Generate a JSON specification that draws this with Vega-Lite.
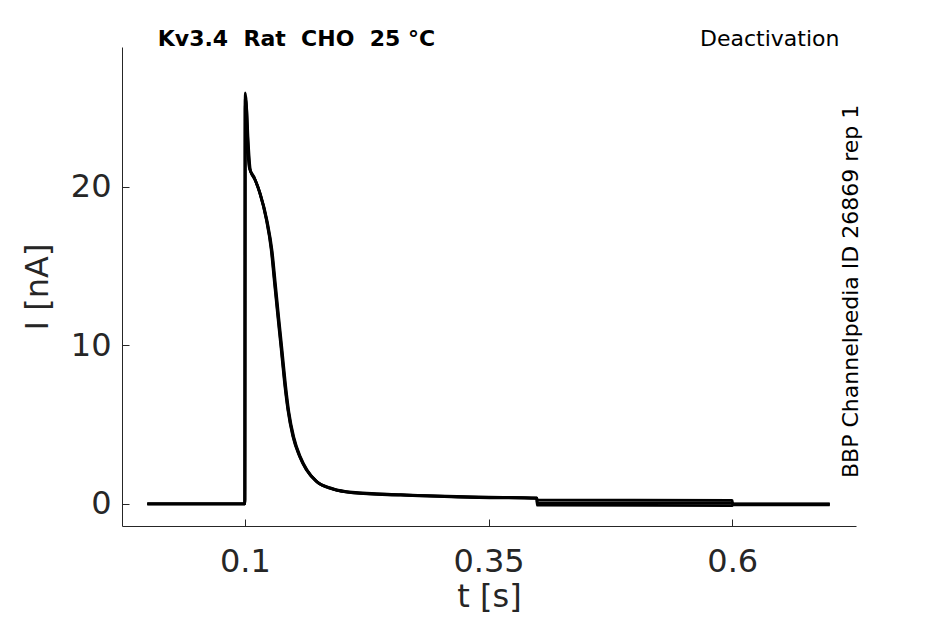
{
  "$schema": "https://vega.github.io/schema/vega-lite/v6.json",
  "width": 734,
  "height": 479,
  "autosize": "none",
  "padding": {"left": 122, "top": 47, "right": 89, "bottom": 98},
  "background": "white",
  "config": {"view": {"stroke": null}, "font": "DejaVu Sans"},
  "data": {
    "values": [
      {"rep": "a", "t": 0, "I": 0},
      {"rep": "a", "t": 0.1, "I": 0},
      {"rep": "a", "t": 0.1004, "I": 25.9},
      {"rep": "a", "t": 0.1015, "I": 25.3},
      {"rep": "a", "t": 0.103, "I": 23.0},
      {"rep": "a", "t": 0.1051, "I": 21.1},
      {"rep": "a", "t": 0.11, "I": 20.5},
      {"rep": "a", "t": 0.1154, "I": 19.6},
      {"rep": "a", "t": 0.1223, "I": 17.9},
      {"rep": "a", "t": 0.1274, "I": 16.0},
      {"rep": "a", "t": 0.1308, "I": 13.9},
      {"rep": "a", "t": 0.1342, "I": 11.8},
      {"rep": "a", "t": 0.1377, "I": 9.7},
      {"rep": "a", "t": 0.1411, "I": 7.6},
      {"rep": "a", "t": 0.1445, "I": 5.9},
      {"rep": "a", "t": 0.1496, "I": 4.25},
      {"rep": "a", "t": 0.1565, "I": 2.98},
      {"rep": "a", "t": 0.1633, "I": 2.15},
      {"rep": "a", "t": 0.1736, "I": 1.41},
      {"rep": "a", "t": 0.19, "I": 0.95},
      {"rep": "a", "t": 0.21, "I": 0.72},
      {"rep": "a", "t": 0.26, "I": 0.57},
      {"rep": "a", "t": 0.34, "I": 0.42},
      {"rep": "a", "t": 0.3995, "I": 0.37},
      {"rep": "a", "t": 0.4, "I": 0.26},
      {"rep": "a", "t": 0.6, "I": 0.22},
      {"rep": "a", "t": 0.6005, "I": -0.02},
      {"rep": "a", "t": 0.7, "I": -0.02},
      {"rep": "b", "t": 0, "I": 0},
      {"rep": "b", "t": 0.1, "I": 0},
      {"rep": "b", "t": 0.1004, "I": 25.6},
      {"rep": "b", "t": 0.1018, "I": 25.0},
      {"rep": "b", "t": 0.1035, "I": 22.8},
      {"rep": "b", "t": 0.1058, "I": 21.0},
      {"rep": "b", "t": 0.1107, "I": 20.4},
      {"rep": "b", "t": 0.1161, "I": 19.5},
      {"rep": "b", "t": 0.123, "I": 17.8},
      {"rep": "b", "t": 0.1281, "I": 15.9},
      {"rep": "b", "t": 0.1315, "I": 13.8},
      {"rep": "b", "t": 0.1349, "I": 11.7},
      {"rep": "b", "t": 0.1384, "I": 9.6},
      {"rep": "b", "t": 0.1418, "I": 7.5},
      {"rep": "b", "t": 0.1452, "I": 5.8},
      {"rep": "b", "t": 0.1503, "I": 4.2},
      {"rep": "b", "t": 0.1572, "I": 2.94},
      {"rep": "b", "t": 0.164, "I": 2.12},
      {"rep": "b", "t": 0.1743, "I": 1.38},
      {"rep": "b", "t": 0.191, "I": 0.92},
      {"rep": "b", "t": 0.211, "I": 0.7},
      {"rep": "b", "t": 0.26, "I": 0.55},
      {"rep": "b", "t": 0.34, "I": 0.4},
      {"rep": "b", "t": 0.3995, "I": 0.35},
      {"rep": "b", "t": 0.4, "I": 0.08},
      {"rep": "b", "t": 0.6, "I": 0.06},
      {"rep": "b", "t": 0.6005, "I": 0.0},
      {"rep": "b", "t": 0.7, "I": 0.0},
      {"rep": "c", "t": 0, "I": 0},
      {"rep": "c", "t": 0.1, "I": 0},
      {"rep": "c", "t": 0.1004, "I": 25.2},
      {"rep": "c", "t": 0.1012, "I": 24.8},
      {"rep": "c", "t": 0.1025, "I": 22.9},
      {"rep": "c", "t": 0.1046, "I": 21.2},
      {"rep": "c", "t": 0.1095, "I": 20.6},
      {"rep": "c", "t": 0.1149, "I": 19.7},
      {"rep": "c", "t": 0.1218, "I": 18.0},
      {"rep": "c", "t": 0.1269, "I": 16.1},
      {"rep": "c", "t": 0.1303, "I": 14.0},
      {"rep": "c", "t": 0.1337, "I": 11.9},
      {"rep": "c", "t": 0.1372, "I": 9.8},
      {"rep": "c", "t": 0.1406, "I": 7.7},
      {"rep": "c", "t": 0.144, "I": 6.0},
      {"rep": "c", "t": 0.1491, "I": 4.3},
      {"rep": "c", "t": 0.156, "I": 3.02},
      {"rep": "c", "t": 0.1628, "I": 2.18},
      {"rep": "c", "t": 0.1731, "I": 1.44},
      {"rep": "c", "t": 0.19, "I": 0.97},
      {"rep": "c", "t": 0.21, "I": 0.74},
      {"rep": "c", "t": 0.26, "I": 0.59},
      {"rep": "c", "t": 0.34, "I": 0.44},
      {"rep": "c", "t": 0.3995, "I": 0.38},
      {"rep": "c", "t": 0.4, "I": -0.08},
      {"rep": "c", "t": 0.6, "I": -0.1},
      {"rep": "c", "t": 0.6005, "I": -0.05},
      {"rep": "c", "t": 0.7, "I": -0.05}
    ]
  },
  "layer": [
    {
      "mark": {"type": "line", "color": "black", "strokeWidth": 2.8, "interpolate": "monotone", "clip": true},
      "encoding": {
        "x": {
          "field": "t",
          "type": "quantitative",
          "scale": {"domain": [-0.026, 0.727], "nice": false, "zero": false},
          "axis": {
            "values": [0.1, 0.35, 0.6],
            "format": ".2~f",
            "title": "t [s]",
            "grid": false,
            "labelFontSize": 32,
            "titleFontSize": 32,
            "titleFontWeight": "normal",
            "tickSize": -7,
            "labelPadding": 27,
            "titlePadding": 4,
            "labelFlush": false,
            "domainColor": "#262626",
            "tickColor": "#262626",
            "labelColor": "#262626",
            "titleColor": "#262626"
          }
        },
        "y": {
          "field": "I",
          "type": "quantitative",
          "scale": {"domain": [-1.39, 28.8], "nice": false, "zero": false},
          "axis": {
            "values": [0, 10, 20],
            "format": "d",
            "title": "I [nA]",
            "grid": false,
            "labelFontSize": 32,
            "titleFontSize": 32,
            "titleFontWeight": "normal",
            "tickSize": -7,
            "labelPadding": 18,
            "titlePadding": 16,
            "labelFlush": false,
            "domainColor": "#262626",
            "tickColor": "#262626",
            "labelColor": "#262626",
            "titleColor": "#262626"
          }
        },
        "detail": {"field": "rep", "type": "nominal"}
      }
    },
    {
      "data": {"values": [{}]},
      "mark": {
        "type": "text",
        "text": "Kv3.4\u00a0 Rat\u00a0 CHO\u00a0 25 °C",
        "align": "left",
        "baseline": "alphabetic",
        "dy": -1,
        "fontSize": 22,
        "fontWeight": "bold",
        "font": "DejaVu Sans",
        "color": "black"
      },
      "encoding": {
        "x": {"datum": 0.0107, "type": "quantitative"},
        "y": {"datum": 28.8, "type": "quantitative"}
      }
    },
    {
      "data": {"values": [{}]},
      "mark": {
        "type": "text",
        "text": "Deactivation",
        "align": "right",
        "baseline": "alphabetic",
        "dy": -1,
        "fontSize": 22,
        "font": "DejaVu Sans",
        "color": "black"
      },
      "encoding": {
        "x": {"datum": 0.71, "type": "quantitative"},
        "y": {"datum": 28.8, "type": "quantitative"}
      }
    },
    {
      "data": {"values": [{}]},
      "mark": {
        "type": "text",
        "text": "BBP Channelpedia ID 26869 rep 1",
        "angle": 270,
        "align": "center",
        "baseline": "alphabetic",
        "fontSize": 22,
        "font": "DejaVu Sans",
        "color": "black"
      },
      "encoding": {
        "x": {"datum": 0.7294, "type": "quantitative"},
        "y": {"datum": 13.4, "type": "quantitative"}
      }
    }
  ]
}
